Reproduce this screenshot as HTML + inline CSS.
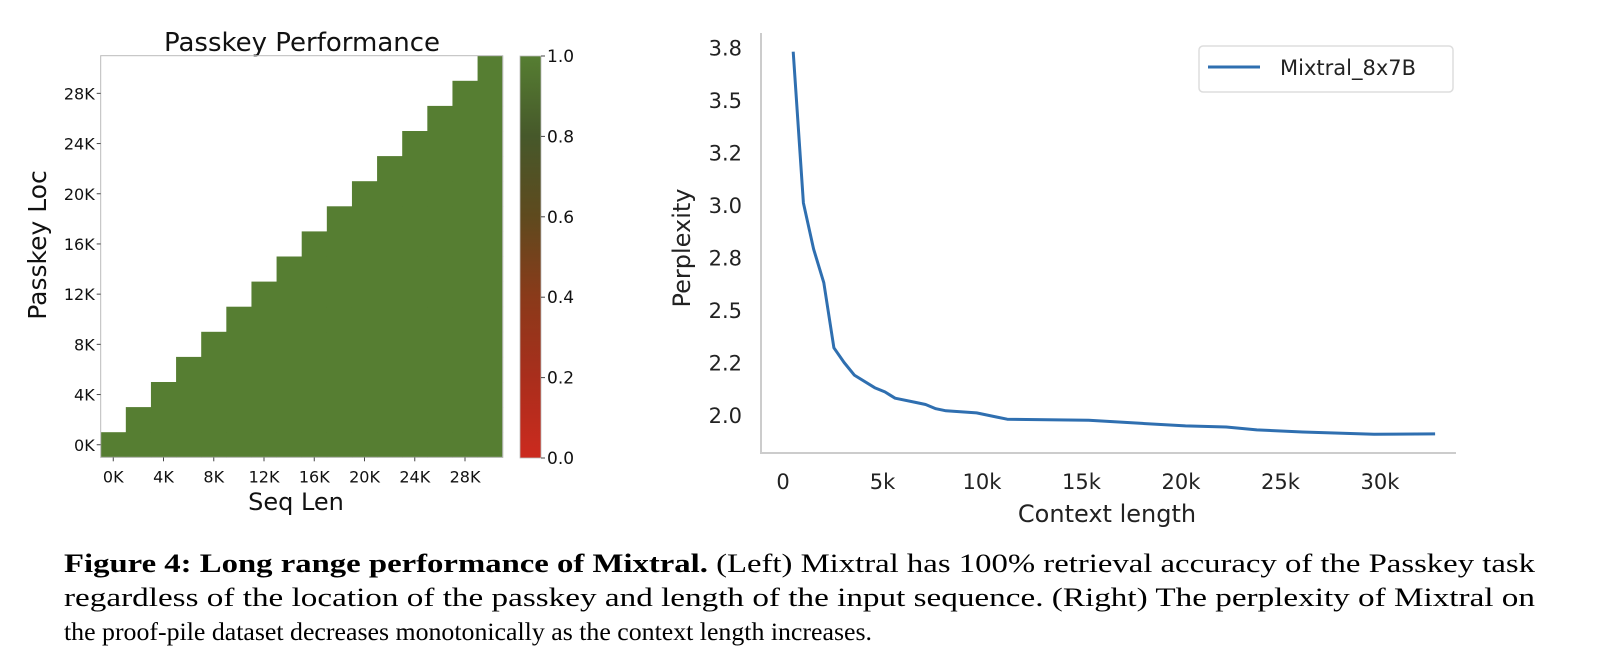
<!DOCTYPE html>
<html><head><meta charset="utf-8"><style>
html,body{margin:0;padding:0;background:#fff;}
svg{display:block;font-family:"DejaVu Sans","Liberation Sans",sans-serif;}
</style></head><body>
<svg id="fig" width="1600" height="671" viewBox="0 0 1600 671" xmlns="http://www.w3.org/2000/svg">
<defs>
<linearGradient id="cbg" x1="0" y1="1" x2="0" y2="0">
<stop offset="0" stop-color="#cc2a1e"/>
<stop offset="0.2" stop-color="#a92e1c"/>
<stop offset="0.4" stop-color="#8a3a1a"/>
<stop offset="0.6" stop-color="#5f4a1e"/>
<stop offset="0.8" stop-color="#46582a"/>
<stop offset="1" stop-color="#567e32"/>
</linearGradient>
</defs>
<g id="left">
<text x="302" y="51" font-size="26" text-anchor="middle" fill="#111">Passkey Performance</text>
<g id="cells"></g>
<rect x="100.7" y="55.7" width="402" height="401.6" fill="none" stroke="#bbb" stroke-width="1"/>
<g id="hxt"></g><g id="hyt"></g>
<text x="296" y="510" font-size="24" text-anchor="middle" fill="#111">Seq Len</text>
<text transform="translate(46,245) rotate(-90)" font-size="25" text-anchor="middle" fill="#111">Passkey Loc</text>
<rect x="520" y="56" width="21" height="402" fill="url(#cbg)" stroke="#bbb" stroke-width="0.8"/>
<g id="cbt"></g>
</g>
<g id="right">
<line x1="761" y1="33" x2="761" y2="453" stroke="#ccc" stroke-width="2"/>
<line x1="760" y1="453" x2="1456" y2="453" stroke="#ccc" stroke-width="2"/>
<g id="pyt"></g><g id="pxt"></g>
<path id="pline" fill="none" stroke="#2f6fb0" stroke-width="3" stroke-linejoin="round"/>
<text x="1107" y="522" font-size="24" text-anchor="middle" fill="#222">Context length</text>
<text transform="translate(690,248) rotate(-90)" font-size="24" text-anchor="middle" fill="#222">Perplexity</text>
<g>
<rect x="1199" y="46" width="254" height="46" rx="4" fill="#fff" stroke="#ddd" stroke-width="1.5"/>
<line x1="1208" y1="67" x2="1260" y2="67" stroke="#2f6fb0" stroke-width="3"/>
<text x="1280" y="75" font-size="21" fill="#222">Mixtral_8x7B</text>
</g>
</g>
<g font-family="'Liberation Serif',serif" fill="#000">
<text x="64" y="572" font-size="26.5" textLength="1471" lengthAdjust="spacingAndGlyphs"><tspan font-weight="bold">Figure 4: Long range performance of Mixtral.</tspan> (Left) Mixtral has 100% retrieval accuracy of the Passkey task</text>
<text x="64" y="606" font-size="26.5" textLength="1471" lengthAdjust="spacingAndGlyphs">regardless of the location of the passkey and length of the input sequence. (Right) The perplexity of Mixtral on</text>
<text x="64" y="640" font-size="25.5" textLength="808" lengthAdjust="spacingAndGlyphs">the proof-pile dataset decreases monotonically as the context length increases.</text>
</g>
</svg>
<script>
// Heatmap data
const seqLens = [0,2,4,6,8,10,12,14,16,18,20,22,24,26,28,30];      // K, columns
const passLocs = [0,2,4,6,8,10,12,14,16,18,20,22,24,26,28,30];     // K, rows
const accuracy = 1.0; // all evaluated cells score 1.0
const heatTickLabels = ["0K","4K","8K","12K","16K","20K","24K","28K"];
const cbTicks = [0.0,0.2,0.4,0.6,0.8,1.0];
// Perplexity data
const ctxLens = [512,1024,1536,2048,2560,3072,3584,4608,5120,5632,6656,7168,7680,8192,9728,10752,11264,15360,18048,20224,22272,23808,26112,29696,32768];
const perplexity = [3.73,3.01,2.79,2.63,2.32,2.25,2.19,2.13,2.11,2.08,2.06,2.05,2.03,2.02,2.01,1.99,1.98,1.975,1.96,1.948,1.943,1.929,1.919,1.908,1.91];
const pyTicks = [2.0,2.25,2.5,2.75,3.0,3.25,3.5,3.75];
const pyTickLabels = ["2.0","2.2","2.5","2.8","3.0","3.2","3.5","3.8"];
const pxTicks = [0,5000,10000,15000,20000,25000,30000];
const pxTickLabels = ["0","5k","10k","15k","20k","25k","30k"];

const NS="http://www.w3.org/2000/svg";
function mk(tag,attrs,parent,txt){const e=document.createElementNS(NS,tag);for(const k in attrs)e.setAttribute(k,attrs[k]);if(txt!==undefined)e.textContent=txt;parent.appendChild(e);return e;}
const H={x0:100.7,y0:457.3,w:402,h:401.6};
const cw=H.w/seqLens.length, ch=H.h/passLocs.length;
const hx=i=>H.x0+i*cw, hy=j=>H.y0-(j+1)*ch;
const cells=document.getElementById('cells');
seqLens.forEach((s,i)=>{passLocs.forEach((p,j)=>{ if(p<=s){
 const r=mk('rect',{x:hx(i),y:hy(j),width:cw+0.4,height:ch+0.4,fill:'#567e32'},cells);
 
 
}});});
const hxt=document.getElementById('hxt'), hyt=document.getElementById('hyt');
heatTickLabels.forEach((l,k)=>{
 const cx=hx(k*2)+cw/2;
 mk('line',{x1:cx,y1:H.y0,x2:cx,y2:H.y0+4,stroke:'#444'},hxt);
 const t=mk('text',{x:cx,y:H.y0+25,'font-size':16,'text-anchor':'middle',fill:'#111'},hxt,l);
 
 
 const cy=hy(k*2)+ch/2;
 mk('line',{x1:H.x0-4,y1:cy,x2:H.x0,y2:cy,stroke:'#444'},hyt);
 const u=mk('text',{x:H.x0-6,y:cy+6,'font-size':16,'text-anchor':'end',fill:'#111'},hyt,l);
 
 
});
const cbt=document.getElementById('cbt');
cbTicks.forEach(v=>{
 const y=458-v*402;
 mk('line',{x1:541,y1:y,x2:545,y2:y,stroke:'#444'},cbt);
 const t=mk('text',{x:547,y:y+6,'font-size':17,fill:'#111'},cbt,v.toFixed(1));
 
 
});
// Perplexity axes
const px=v=>783+v*0.0199, py=v=>415-(v-2.0)*210;
const pyt=document.getElementById('pyt'), pxt=document.getElementById('pxt');
pyTicks.forEach((v,i)=>{
 const t=mk('text',{x:742,y:py(v)+8,'font-size':21,'text-anchor':'end',fill:'#222'},pyt,pyTickLabels[i]);
 
 
});
pxTicks.forEach((v,i)=>{
 const t=mk('text',{x:px(v),y:489,'font-size':21,'text-anchor':'middle',fill:'#222'},pxt,pxTickLabels[i]);
 
 
});
document.getElementById('pline').setAttribute('d',ctxLens.map((c,i)=>(i?'L':'M')+px(c).toFixed(1)+' '+py(perplexity[i]).toFixed(1)).join(' '));
</script>
</body></html>
